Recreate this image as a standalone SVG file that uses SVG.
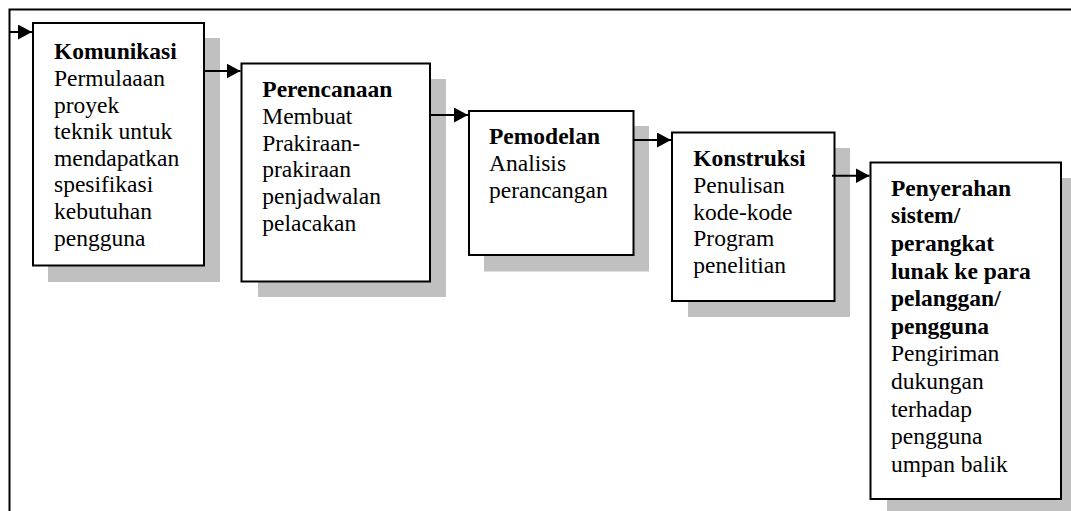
<svg xmlns="http://www.w3.org/2000/svg" width="1071" height="511" viewBox="0 0 1071 511">
<style>
.shadow{fill:#c0c0c0;stroke:none}
.box{fill:#fff;stroke:#000;stroke-width:2}
.frame{fill:none;stroke:#000;stroke-width:2}
.conn{fill:none;stroke:#000;stroke-width:2}
.t{font-family:'Liberation Serif','Times New Roman','DejaVu Serif',serif;font-size:23.5px;fill:#000}
.b{font-weight:bold}
</style>
<defs>
<marker id="arr" viewBox="0 0 14 15" refX="14" refY="7.5" markerWidth="14" markerHeight="15" markerUnits="userSpaceOnUse" orient="auto">
<path d="M0,0 L14,7.5 L0,15 Z" fill="#000"/>
</marker>
</defs>
<rect width="1071" height="511" fill="#fff"/>
<g id="frame">
<path class="frame" d="M9.5,511 L9.5,9.5 L1071,9.5"/>
</g>
<g id="komunikasi">
<rect class="shadow" x="48" y="38" width="172" height="244"/>
<rect class="box" x="33" y="23" width="171" height="242.5"/>
<text class="t" font-family="Liberation Serif, serif" x="54" y="59.3"><tspan class="b">Komunikasi</tspan><tspan x="54" dy="26.6">Permulaaan</tspan><tspan x="54" dy="26.6">proyek</tspan><tspan x="54" dy="26.6">teknik untuk</tspan><tspan x="54" dy="26.6">mendapatkan</tspan><tspan x="54" dy="26.6">spesifikasi</tspan><tspan x="54" dy="26.6">kebutuhan</tspan><tspan x="54" dy="26.6">pengguna</tspan></text>
</g>
<g id="perencanaan">
<rect class="shadow" x="258" y="79" width="188" height="218"/>
<rect class="box" x="241.5" y="63.5" width="188.5" height="218"/>
<text class="t" font-family="Liberation Serif, serif" x="262.3" y="97.3"><tspan class="b">Perencanaan</tspan><tspan x="262.3" dy="26.7">Membuat</tspan><tspan x="262.3" dy="26.7">Prakiraan-</tspan><tspan x="262.3" dy="26.7">prakiraan</tspan><tspan x="262.3" dy="26.7">penjadwalan</tspan><tspan x="262.3" dy="26.7">pelacakan</tspan></text>
</g>
<g id="pemodelan">
<rect class="shadow" x="484" y="126" width="165" height="145.5"/>
<rect class="box" x="469" y="111" width="164.5" height="144"/>
<text class="t" font-family="Liberation Serif, serif" x="489" y="144.3"><tspan class="b">Pemodelan</tspan><tspan x="489" dy="26.9">Analisis</tspan><tspan x="489" dy="26.9">perancangan</tspan></text>
</g>
<g id="konstruksi">
<rect class="shadow" x="688" y="148" width="162" height="169"/>
<rect class="box" x="672" y="132.5" width="162.5" height="168.5"/>
<text class="t" font-family="Liberation Serif, serif" x="693.3" y="165.7"><tspan class="b">Konstruksi</tspan><tspan x="693.3" dy="26.9">Penulisan</tspan><tspan x="693.3" dy="26.9">kode-kode</tspan><tspan x="693.3" dy="26.9">Program</tspan><tspan x="693.3" dy="26.9">penelitian</tspan></text>
</g>
<g id="penyerahan">
<rect class="shadow" x="887" y="178" width="190" height="340"/>
<rect class="box" x="870.5" y="162.5" width="190.5" height="336.5"/>
<text class="t" font-family="Liberation Serif, serif" x="891" y="195.7"><tspan class="b">Penyerahan</tspan><tspan class="b" x="891" dy="27.6">sistem/</tspan><tspan class="b" x="891" dy="27.6">perangkat</tspan><tspan class="b" x="891" dy="27.6">lunak ke para</tspan><tspan class="b" x="891" dy="27.6">pelanggan/</tspan><tspan class="b" x="891" dy="27.6">pengguna</tspan><tspan x="891" dy="27.6">Pengiriman</tspan><tspan x="891" dy="27.6">dukungan</tspan><tspan x="891" dy="27.6">terhadap</tspan><tspan x="891" dy="27.6">pengguna</tspan><tspan x="891" dy="27.6">umpan balik</tspan></text>
</g>
<g id="connectors">
<path class="conn" d="M9.5,32 L32,32" marker-end="url(#arr)"/>
<path class="conn" d="M204,71 L240.5,71" marker-end="url(#arr)"/>
<path class="conn" d="M430,115 L468,115" marker-end="url(#arr)"/>
<path class="conn" d="M633.5,140 L671,140" marker-end="url(#arr)"/>
<path class="conn" d="M832,175.7 L869.5,175.7" marker-end="url(#arr)"/>
</g>
</svg>
